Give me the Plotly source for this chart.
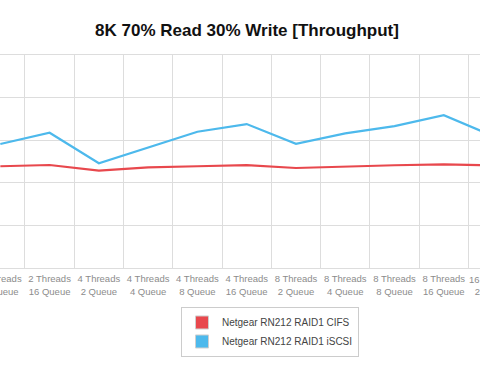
import plotly.graph_objects as go

categories = [
    "2 Threads<br>8 Queue", "2 Threads<br>16 Queue",
    "4 Threads<br>2 Queue", "4 Threads<br>4 Queue", "4 Threads<br>8 Queue", "4 Threads<br>16 Queue",
    "8 Threads<br>2 Queue", "8 Threads<br>4 Queue", "8 Threads<br>8 Queue", "8 Threads<br>16 Queue",
    "16 Threads<br>2 Queue",
]
cifs = [119.4, 120.9, 114.2, 118.2, 119.4, 120.7, 117.4, 119.4, 120.6, 121.7, 120.3]
iscsi = [145.5, 158.7, 122.9, 141.6, 159.9, 168.9, 145.8, 158.0, 166.5, 179.4, 154.8]
series_names = ["Netgear RN212 RAID1 CIFS", "Netgear RN212 RAID1 iSCSI"]
colors = ["#E8484D", "#4DB9EC"]

title = "8K 70% Read 30% Write [Throughput]"

W, H = 480, 372
x_range = [-0.0067, 9.735]
y_range = [0, 250]

fig = go.Figure()
for name, vals, col in zip(series_names, [cifs, iscsi], colors):
    fig.add_trace(go.Scatter(x=categories, y=vals, mode="lines", name=name,
                             line=dict(color=col, width=2.2), showlegend=False,
                             hoverinfo="skip"))
# legend swatches (square)
for name, col in zip(series_names, colors):
    fig.add_trace(go.Scatter(x=[None], y=[None], mode="markers", name=name,
                             marker=dict(symbol="square", size=13, color=col,
                                         line=dict(color="#cfcfcf", width=1))))

tickfont = dict(family="Liberation Sans, Arial, sans-serif", size=9.5, color="#8c8c8c")

fig.update_layout(
    width=W, height=H,
    margin=dict(l=0, r=0, t=55, b=104, pad=0, autoexpand=False),
    paper_bgcolor="white", plot_bgcolor="white",
    title=dict(text="<b>" + title + "</b>", x=247 / W, xref="paper", xanchor="center",
               y=1 - 30 / H, yref="container", yanchor="middle", automargin=False,
               font=dict(family="Liberation Sans, Arial, sans-serif", size=17, color="#111111")),
    xaxis=dict(type="category", categoryorder="array", categoryarray=categories,
               range=x_range, tickson="boundaries", showgrid=True, gridcolor="#dddddd",
               gridwidth=1, showline=True, mirror=True, linecolor="#dddddd", linewidth=1,
               ticks="", tickfont=tickfont, tickangle=0, zeroline=False, automargin=False,
               ticklabelstandoff=2),
    yaxis=dict(range=y_range, dtick=50, showgrid=True, gridcolor="#dddddd", gridwidth=1,
               showticklabels=False, ticks="", zeroline=False, showline=False, automargin=False),
    legend=dict(x=270 / W, xanchor="center", y=-0.183, yanchor="top",
                bgcolor="white", bordercolor="#cccccc", borderwidth=1,
                font=dict(family="Liberation Sans, Arial, sans-serif", size=10, color="#444444"),
                itemwidth=30),
    showlegend=True,
)

# label of the category just past the right edge (partially visible)
last_idx = len(categories) - 1
frac = (last_idx - x_range[0]) / (x_range[1] - x_range[0])
fig.add_annotation(text=categories[last_idx], xref="paper", yref="paper", x=frac, y=0,
                   xanchor="center", yanchor="top", yshift=-4, showarrow=False,
                   font=tickfont, align="center")

fig.write_html("out.html", config={"displayModeBar": False},
               post_script="document.body.style.margin='0';document.body.style.overflow='hidden';")
